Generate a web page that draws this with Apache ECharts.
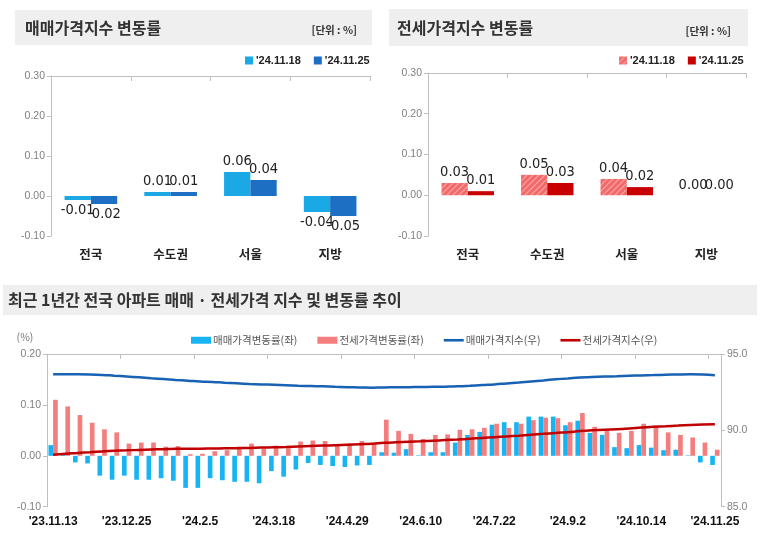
<!DOCTYPE html>
<html><head><meta charset="utf-8">
<script src="https://cdn.jsdelivr.net/npm/echarts@6/dist/echarts.min.js"></script>
<style>html,body{margin:0;padding:0;background:#fff}#c{width:763px;height:541px}</style>
</head><body><div id="c"></div>
<script>
// ---- data ----
const regions = ['전국', '수도권', '서울', '지방'];
const sale1118 = [-0.01, 0.01, 0.06, -0.04];
const sale1125 = [-0.02, 0.01, 0.04, -0.05];
const jeonse1118 = [0.03, 0.05, 0.04, 0.00];
const jeonse1125 = [0.01, 0.03, 0.02, 0.00];

const weeks = ["'23.11.13","'23.11.20","'23.11.27","'23.12.4","'23.12.11","'23.12.18","'23.12.25",
 "'24.1.1","'24.1.8","'24.1.15","'24.1.22","'24.1.29","'24.2.5","'24.2.12","'24.2.19","'24.2.26",
 "'24.3.4","'24.3.11","'24.3.18","'24.3.25","'24.4.1","'24.4.8","'24.4.15","'24.4.22","'24.4.29",
 "'24.5.6","'24.5.13","'24.5.20","'24.5.27","'24.6.3","'24.6.10","'24.6.17","'24.6.24","'24.7.1",
 "'24.7.8","'24.7.15","'24.7.22","'24.7.29","'24.8.5","'24.8.12","'24.8.19","'24.8.26","'24.9.2",
 "'24.9.9","'24.9.16","'24.9.23","'24.9.30","'24.10.7","'24.10.14","'24.10.21","'24.10.28",
 "'24.11.4","'24.11.11","'24.11.18","'24.11.25"];

const saleRate = [0.021, 0.005, -0.013, -0.015, -0.039, -0.047, -0.039, -0.047, -0.047, -0.044,
 -0.049, -0.063, -0.063, -0.044, -0.048, -0.051, -0.051, -0.054, -0.030, -0.041,
 -0.027, -0.014, -0.018, -0.020, -0.022, -0.019, -0.018, 0.007, 0.006, 0.013,
 0.001, 0.007, 0.007, 0.026, 0.041, 0.047, 0.061, 0.066, 0.066, 0.077,
 0.077, 0.077, 0.060, 0.069, 0.045, 0.041, 0.017, 0.015, 0.021, 0.016,
 0.011, 0.012, 0.001, -0.013, -0.018];

const jeonseRate = [0.110, 0.097, 0.080, 0.065, 0.052, 0.046, 0.024, 0.026, 0.026, 0.018,
 0.019, 0.003, 0.004, 0.009, 0.011, 0.018, 0.024, 0.014, 0.020, 0.015,
 0.028, 0.030, 0.029, 0.021, 0.024, 0.029, 0.025, 0.071, 0.049, 0.043,
 0.033, 0.041, 0.042, 0.051, 0.052, 0.055, 0.063, 0.055, 0.063, 0.070,
 0.075, 0.074, 0.066, 0.084, 0.057, 0.049, 0.045, 0.049, 0.063, 0.059,
 0.046, 0.041, 0.036, 0.026, 0.012];

const saleIndex = [93.67, 93.67, 93.67, 93.66, 93.63, 93.58, 93.53, 93.47, 93.41, 93.36,
 93.30, 93.25, 93.20, 93.17, 93.12, 93.08, 93.04, 93.01, 92.98, 92.95,
 92.92, 92.90, 92.88, 92.85, 92.83, 92.81, 92.79, 92.81, 92.82, 92.83,
 92.84, 92.85, 92.86, 92.88, 92.92, 92.97, 93.01, 93.07, 93.13, 93.20,
 93.27, 93.34, 93.40, 93.46, 93.49, 93.52, 93.54, 93.57, 93.60, 93.62,
 93.64, 93.66, 93.67, 93.66, 93.61];

const jeonseIndex = [88.40, 88.47, 88.52, 88.57, 88.62, 88.66, 88.69, 88.72, 88.75, 88.77,
 88.79, 88.80, 88.80, 88.81, 88.82, 88.83, 88.85, 88.87, 88.89, 88.91,
 88.94, 88.97, 89.00, 89.03, 89.06, 89.09, 89.12, 89.18, 89.22, 89.25,
 89.28, 89.32, 89.36, 89.40, 89.45, 89.50, 89.55, 89.60, 89.65, 89.71,
 89.77, 89.83, 89.88, 89.95, 90.00, 90.04, 90.08, 90.12, 90.18, 90.23,
 90.27, 90.31, 90.35, 90.38, 90.40];

// ---- style ----
const KR = "'Noto Sans CJK KR', sans-serif";
const NUM = "'Liberation Sans', Arial, sans-serif";
const NARROW = "'Liberation Sans Narrow', 'DejaVu Sans Condensed', sans-serif";
const AX = '#bfbfbf';
const LINE_ICON = 'path://M0,0 L20,0 L20,2.6 L0,2.6 Z';

function hatch(bg, fg) {
  const c = document.createElement('canvas');
  c.width = 6; c.height = 6;
  const g = c.getContext('2d');
  g.fillStyle = bg; g.fillRect(0, 0, 6, 6);
  g.strokeStyle = fg; g.lineWidth = 1.2;
  g.beginPath();
  g.moveTo(0, 6); g.lineTo(6, 0);
  g.moveTo(-3, 3); g.lineTo(3, -3);
  g.moveTo(3, 9); g.lineTo(9, 3);
  g.stroke();
  return c;
}
const pinkHatch = { image: hatch('#f26b6b', '#f8a3a3'), repeat: 'repeat' };

function labeled(arr) {
  return arr.map(v => ({ value: v, label: { position: v < 0 ? 'bottom' : 'top' } }));
}
const barLabel = {
  show: true, distance: 3, formatter: p => p.value.toFixed(2),
  fontFamily: NARROW, fontSize: 14.5, color: '#222'
};

function labelAxis(grid, data, extra) {
  return Object.assign({
    gridIndex: grid, type: 'category', data: data, position: 'bottom',
    axisLine: { show: false }, axisTick: { show: false }, splitLine: { show: false }
  }, extra);
}
function zeroAxis(grid, data) {
  return {
    gridIndex: grid, type: 'category', data: data, position: 'top',
    axisLine: { show: true, onZero: true, lineStyle: { color: AX, width: 1 } },
    axisTick: { show: true, inside: true, length: 5, lineStyle: { color: AX } },
    axisLabel: { show: false }, splitLine: { show: false }
  };
}
function valAxis(grid, min, max, interval, digits, pos) {
  return {
    gridIndex: grid, type: 'value', min: min, max: max, interval: interval, position: pos || 'left',
    axisLine: { show: true, lineStyle: { color: AX } },
    axisTick: { show: true, length: 4, lineStyle: { color: AX } },
    splitLine: { show: false },
    axisLabel: { formatter: v => v.toFixed(digits), color: '#808080', fontSize: 10.5, fontFamily: NUM, margin: 6 }
  };
}

const chart = echarts.init(document.getElementById('c'), null, { renderer: 'canvas' });
chart.setOption({
  animation: false,
  backgroundColor: '#ffffff',
  grid: [
    { left: 51, top: 76, width: 319, height: 160 },
    { left: 428, top: 73, width: 318, height: 163 },
    { left: 47, top: 354, width: 674, height: 152.7 }
  ],
  xAxis: [
    labelAxis(0, regions, { axisLabel: { fontFamily: KR, fontSize: 12.5, fontWeight: 'bold', color: '#222', margin: 12 } }),
    zeroAxis(0, regions),
    labelAxis(1, regions, { axisLabel: { fontFamily: KR, fontSize: 12.5, fontWeight: 'bold', color: '#222', margin: 12 } }),
    zeroAxis(1, regions),
    labelAxis(2, weeks, { axisLabel: { interval: 5, fontFamily: NUM, fontSize: 12, fontWeight: 'bold', color: '#111', margin: 9 } }),
    zeroAxis(2, weeks)
  ],
  yAxis: [
    valAxis(0, -0.1, 0.3, 0.1, 2),
    valAxis(1, -0.1, 0.3, 0.1, 2),
    valAxis(2, -0.1, 0.2, 0.1, 2),
    valAxis(2, 85, 95, 5, 1, 'right')
  ],
  legend: [
    {
      data: ["매매 '24.11.18", "매매 '24.11.25"], left: 240, top: 50, icon: 'rect',
      itemWidth: 8, itemHeight: 8, itemGap: 13, selectedMode: false,
      formatter: n => n.split(' ')[1],
      textStyle: { fontFamily: NUM, fontWeight: 'bold', fontSize: 11, color: '#222', padding: [0, 0, 0, -2] }
    },
    {
      data: ["전세 '24.11.18", "전세 '24.11.25"], left: 614, top: 50, icon: 'rect',
      itemWidth: 8, itemHeight: 8, itemGap: 13, selectedMode: false,
      formatter: n => n.split(' ')[1],
      textStyle: { fontFamily: NUM, fontWeight: 'bold', fontSize: 11, color: '#222', padding: [0, 0, 0, -2] }
    },
    {
      data: [{ name: '매매가격변동률(좌)', icon: 'rect' }, { name: '전세가격변동률(좌)', icon: 'rect' },
             { name: '매매가격지수(우)', icon: LINE_ICON }, { name: '전세가격지수(우)', icon: LINE_ICON }],
      left: 186, top: 330, itemWidth: 20, itemHeight: 7, itemGap: 20, selectedMode: false,
      textStyle: { fontFamily: KR, fontSize: 10.5, color: '#555', padding: [0, 0, 0, -3] }
    }
  ],
  series: [
    { name: "매매 '24.11.18", type: 'bar', xAxisIndex: 0, yAxisIndex: 0, data: labeled(sale1118),
      itemStyle: { color: '#1ba9e6' }, barGap: '0%', barCategoryGap: '34%', label: barLabel },
    { name: "매매 '24.11.25", type: 'bar', xAxisIndex: 0, yAxisIndex: 0, data: labeled(sale1125),
      itemStyle: { color: '#1c6fc2' }, barGap: '0%', barCategoryGap: '34%', label: barLabel },
    { name: "전세 '24.11.18", type: 'bar', xAxisIndex: 2, yAxisIndex: 1, data: labeled(jeonse1118),
      itemStyle: { color: pinkHatch }, barGap: '0%', barCategoryGap: '34%', label: barLabel },
    { name: "전세 '24.11.25", type: 'bar', xAxisIndex: 2, yAxisIndex: 1, data: labeled(jeonse1125),
      itemStyle: { color: '#c80000' }, barGap: '0%', barCategoryGap: '34%', label: barLabel },
    { name: '매매가격변동률(좌)', type: 'bar', xAxisIndex: 4, yAxisIndex: 2, data: saleRate,
      itemStyle: { color: '#16b4f2' }, barGap: '0%', barCategoryGap: '24%' },
    { name: '전세가격변동률(좌)', type: 'bar', xAxisIndex: 4, yAxisIndex: 2, data: jeonseRate,
      itemStyle: { color: '#f47d7d' }, barGap: '0%', barCategoryGap: '24%' },
    { name: '매매가격지수(우)', type: 'line', xAxisIndex: 4, yAxisIndex: 3, data: saleIndex,
      smooth: true, symbol: 'none', lineStyle: { color: '#1862b3', width: 2.5 }, itemStyle: { color: '#1862b3' }, z: 5 },
    { name: '전세가격지수(우)', type: 'line', xAxisIndex: 4, yAxisIndex: 3, data: jeonseIndex,
      smooth: true, symbol: 'none', lineStyle: { color: '#c00000', width: 2.5 }, itemStyle: { color: '#c00000' }, z: 5 }
  ],
  graphic: [
    { type: 'rect', shape: { x: 15, y: 10, width: 357, height: 35 }, style: { fill: '#efefef' }, z: -1 },
    { type: 'text', x: 25, y: 28, style: { text: '매매가격지수 변동률', fontFamily: KR, fontSize: 16, fontWeight: 'bold', fill: '#333',
      align: 'left', verticalAlign: 'middle', textAlign: 'left', textVerticalAlign: 'middle' } },
    { type: 'text', x: 357, y: 30, style: { text: '[단위 : %]', fontFamily: KR, fontSize: 10.5, fontWeight: 'bold', fill: '#333',
      align: 'right', verticalAlign: 'middle', textAlign: 'right', textVerticalAlign: 'middle' } },
    { type: 'rect', shape: { x: 389, y: 9, width: 359, height: 37 }, style: { fill: '#efefef' }, z: -1 },
    { type: 'text', x: 397, y: 28, style: { text: '전세가격지수 변동률', fontFamily: KR, fontSize: 16, fontWeight: 'bold', fill: '#333',
      align: 'left', verticalAlign: 'middle', textAlign: 'left', textVerticalAlign: 'middle' } },
    { type: 'text', x: 731, y: 31, style: { text: '[단위 : %]', fontFamily: KR, fontSize: 10.5, fontWeight: 'bold', fill: '#333',
      align: 'right', verticalAlign: 'middle', textAlign: 'right', textVerticalAlign: 'middle' } },
    { type: 'rect', shape: { x: 3, y: 285, width: 754, height: 30 }, style: { fill: '#efefef' }, z: -1 },
    { type: 'text', x: 8, y: 300, style: { text: '최근 1년간 전국 아파트 매매 · 전세가격 지수 및 변동률 추이', fontFamily: KR, fontSize: 16, fontWeight: 'bold', fill: '#333',
      align: 'left', verticalAlign: 'middle', textAlign: 'left', textVerticalAlign: 'middle' } },
    { type: 'text', x: 25, y: 337, style: { text: '(%)', fontFamily: KR, fontSize: 10.5, fill: '#777',
      align: 'center', verticalAlign: 'middle', textAlign: 'center', textVerticalAlign: 'middle' } }
  ]
});
</script></body></html>
